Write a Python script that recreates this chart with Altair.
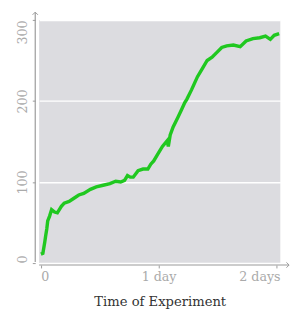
import altair as alt
import pandas as pd

# Time in days, cumulative count
days = [0.0, 0.017, 0.033, 0.041, 0.050, 0.058, 0.074, 0.091, 0.116, 0.140,
        0.174, 0.198, 0.240, 0.281, 0.322, 0.364, 0.421, 0.471, 0.529, 0.587,
        0.636, 0.678, 0.711, 0.736, 0.760, 0.785, 0.826, 0.868, 0.909, 0.934,
        0.959, 0.992, 1.033, 1.074, 1.083, 1.099, 1.124, 1.165, 1.198, 1.223,
        1.240, 1.281, 1.306, 1.331, 1.372, 1.413, 1.455, 1.496, 1.537, 1.579,
        1.636, 1.694, 1.744, 1.802, 1.860, 1.909, 1.950, 1.983, 2.025]
values = [11, 12, 26, 34, 42, 52, 58, 66, 63, 62,
          70, 74, 76, 80, 84, 86, 91, 94, 96, 98,
          101, 100, 102, 108, 106, 106, 114, 116, 116, 122,
          126, 134, 144, 151, 144, 158, 168, 180, 190, 198,
          202, 214, 222, 230, 240, 250, 254, 260, 266, 268,
          269, 267, 274, 277, 278, 280, 276, 281, 283]

x_ticks = [0, 1, 2]
y_ticks = [0, 100, 200, 300]

df = pd.DataFrame({"t": days, "v": values})
one = pd.DataFrame({"a": [0]})

FONT = "DejaVu Serif"
AX = "#9a9a9a"
LAB = "#aaaaaa"

line = alt.Chart(df).mark_line(color="#20c820", strokeWidth=3.5, clip=False).encode(
    x=alt.X("t:Q", scale=alt.Scale(domain=[-0.015, 2.035], nice=False, zero=False),
            axis=alt.Axis(values=x_ticks, title="Time of Experiment", grid=False, domain=False,
                          labelExpr="datum.value == 0 ? '0' : datum.value == 1 ? '1 day' : '2 days'",
                          labelAlign={"expr": "datum.value == 0 ? 'left' : datum.value == 2 ? 'right' : 'center'"},
                          labelOffset={"expr": "datum.value == 2 ? 4 : 0"},
                          offset=2, tickSize=3, tickColor=AX,
                          labelColor=LAB, labelFont=FONT, labelFontSize=13, labelPadding=3,
                          titleFont=FONT, titleFontSize=13.5, titleFontWeight="normal",
                          titleColor="#333333", titlePadding=12)),
    y=alt.Y("v:Q", scale=alt.Scale(domain=[0, 300], nice=False),
            axis=alt.Axis(values=y_ticks, title=None, grid=True, gridColor="white", gridWidth=1.5,
                          domain=False, offset=4, tickSize=3, tickColor=AX,
                          labelAngle=-90, labelColor=LAB, labelFont=FONT, labelFontSize=13,
                          labelAlign={"expr": "datum.value == 300 ? 'right' : datum.value == 0 ? 'left' : 'center'"},
                          labelBaseline="bottom", labelPadding=3)),
)

yline = alt.Chart(one).mark_rule(color=AX, strokeWidth=1.2).encode(
    x=alt.value(-4), y=alt.value(-8), y2=alt.value(249))
xline = alt.Chart(one).mark_rule(color=AX, strokeWidth=1.2).encode(
    y=alt.value(252), x=alt.value(0), x2=alt.value(257))
yarrow = alt.Chart(one).mark_point(shape="M-1,1L0,0L1,1", filled=False, color=AX,
                                   strokeWidth=1, size=30, opacity=1).encode(
    x=alt.value(-4), y=alt.value(-8))
xarrow = alt.Chart(one).mark_point(shape="M-1,-1L0,0L-1,1", filled=False, color=AX,
                                   strokeWidth=1, size=30, opacity=1).encode(
    x=alt.value(257), y=alt.value(252))

chart = alt.layer(line, yline, xline, yarrow, xarrow).properties(
    width=248, height=250,
    autosize=alt.AutoSizeParams(type="none"),
    padding={"left": 32, "top": 8, "right": 12, "bottom": 45},
).configure(background="white").configure_view(fill="#dcdce0", stroke=None)

chart.save("out.html", embed_options={"renderer": "svg", "actions": False})
